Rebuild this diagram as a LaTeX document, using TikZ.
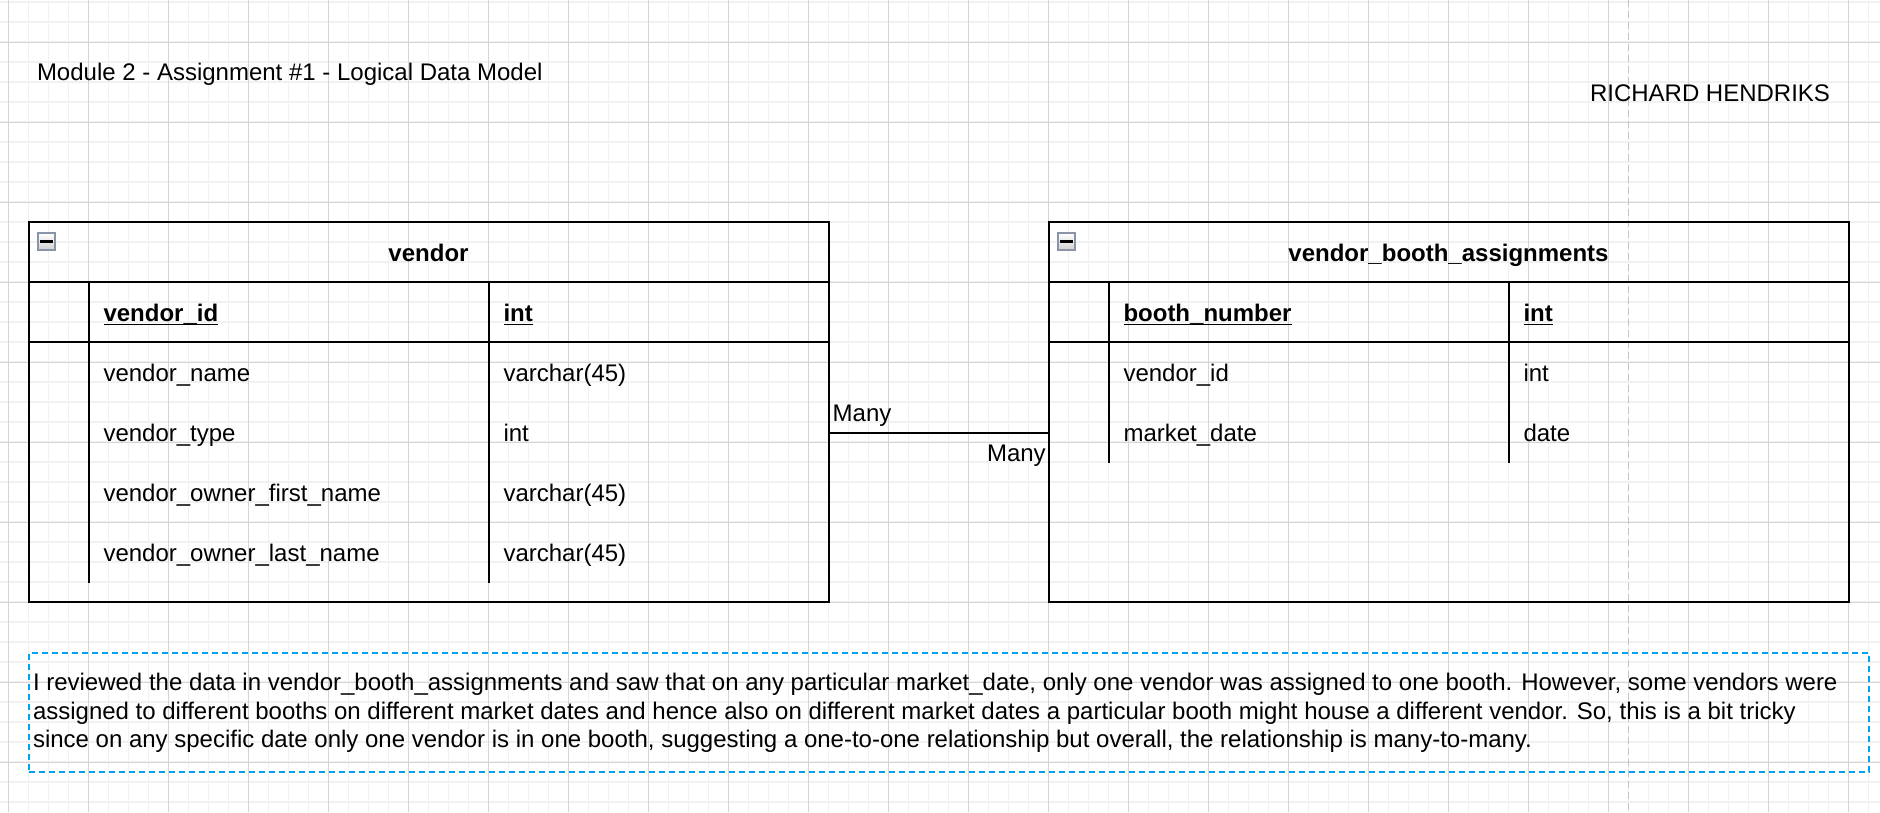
\documentclass[tikz,border=0pt]{standalone}
\usepackage{fontspec}
\setmainfont{Liberation Sans}
\usetikzlibrary{calc}
\definecolor{gridminor}{HTML}{F1F1F1}
\definecolor{gridmajor}{HTML}{D5D5D5}
\definecolor{pageline}{HTML}{C4C4C4}
\definecolor{noteblue}{HTML}{00A2F2}
\definecolor{iconedge}{HTML}{8A94A8}
\newcommand\ulx[1]{\setbox0\hbox{#1}\rlap{\rule[-3.8pt]{\wd0}{1.6pt}}\box0}
\begin{document}
\begin{tikzpicture}[x=1pt,y=-1pt,
  every node/.style={font=\fontsize{24}{28.3}\selectfont, inner sep=0pt, outer sep=0pt},
  tbl/.style={draw, line width=2pt, anchor=north west, minimum width=800pt, minimum height=380pt},
  sep/.style={line width=2pt},
  txt/.style={anchor=base west},
  hdr/.style={anchor=base, font=\fontsize{24}{28.3}\selectfont\bfseries},
  pk/.style={anchor=base west, font=\fontsize{24}{28.3}\selectfont\bfseries},
  icon/.style={draw=iconedge, line width=1.3pt, minimum size=17pt, top color=white, bottom color=black!18},
  minus/.style={line width=2.4pt},
  conn/.style={line width=2pt},
  notebox/.style={draw=noteblue, line width=2pt, dash pattern=on 6pt off 4pt, anchor=north west, minimum width=1840pt, minimum height=119pt},
]
\useasboundingbox (0,0) rectangle (1880,812);
\fill[white] (0,0) rectangle (1880,812);
% grid
\foreach \i in {0,...,93} \draw[gridminor, line width=1.5pt] ({8.5+20*\i},0) -- ({8.5+20*\i},812);
\foreach \i in {0,...,40} \draw[gridminor, line width=1.5pt] (0,{2+20*\i}) -- (1880,{2+20*\i});
\foreach \i in {0,...,23} \draw[gridmajor, line width=1pt] ({8.5+80*\i},0) -- ({8.5+80*\i},812);
\foreach \i in {0,...,9} \draw[gridmajor, line width=1pt] (0,{42+80*\i}) -- (1880,{42+80*\i});
% page break line
\draw[pageline, line width=1.5pt, dash pattern=on 7pt off 4pt] (1628.5,0) -- (1628.5,812);

% titles
\node[txt] (title) at (37,80) {Module 2 - Assignment \#1 - Logical Data Model};
\node[txt] (author) at (1590,101) {RICHARD HENDRIKS};

% vendor table
\node[tbl] (vendor) at (28.5,222) {};
\draw[sep] (28.5,282) -- (828.5,282);
\draw[sep] (28.5,342) -- (828.5,342);
\draw[sep] (88.5,282) -- (88.5,583);
\draw[sep] (488.5,282) -- (488.5,583);
\node[icon] (vicon) at (46.5,241.5) {};
\draw[minus] ($(vicon.center)+(-6.5,0)$) -- ($(vicon.center)+(6.5,0)$);
\node[hdr] (vendorH) at (428.5,261.5) {vendor};
\node[pk] (vid) at (103.5,321.5) {\ulx{vendor\_id}};
\node[pk] (vidT) at (503.5,321.5) {\ulx{int}};
\node[txt] (vname) at (103.5,381.5) {vendor\_name};
\node[txt] (vnameT) at (503.5,381.5) {varchar(45)};
\node[txt] (vtype) at (103.5,441.5) {vendor\_type};
\node[txt] (vtypeT) at (503.5,441.5) {int};
\node[txt] (vfirst) at (103.5,501.5) {vendor\_owner\_first\_name};
\node[txt] (vfirstT) at (503.5,501.5) {varchar(45)};
\node[txt] (vlast) at (103.5,561.5) {vendor\_owner\_last\_name};
\node[txt] (vlastT) at (503.5,561.5) {varchar(45)};

% vendor_booth_assignments table
\node[tbl] (booth) at (1048.5,222) {};
\draw[sep] (1048.5,282) -- (1848.5,282);
\draw[sep] (1048.5,342) -- (1848.5,342);
\draw[sep] (1108.5,282) -- (1108.5,463);
\draw[sep] (1508.5,282) -- (1508.5,463);
\node[icon] (bicon) at (1066.5,241.5) {};
\draw[minus] ($(bicon.center)+(-6.5,0)$) -- ($(bicon.center)+(6.5,0)$);
\node[hdr] (boothH) at (1448.5,261.5) {vendor\_booth\_assignments};
\node[pk] (bnum) at (1123.5,321.5) {\ulx{booth\_number}};
\node[pk] (bnumT) at (1523.5,321.5) {\ulx{int}};
\node[txt] (bvid) at (1123.5,381.5) {vendor\_id};
\node[txt] (bvidT) at (1523.5,381.5) {int};
\node[txt] (bdate) at (1123.5,441.5) {market\_date};
\node[txt] (bdateT) at (1523.5,441.5) {date};

% relationship
\coordinate (rowmid) at (0,433);
\draw[conn] (vendor.east |- rowmid) -- (booth.west |- rowmid);
\node[txt] (many1) at (832.7,421) {Many};
\node[anchor=base east] (many2) at (1045.7,461) {Many};

% note
\node[notebox] (note) at (28.8,653) {};
\node[txt] (n1) at (33,690.7) {I reviewed the data in vendor\_booth\_assignments and saw that on any particular market\_date, only one vendor was assigned to one booth. However, some vendors were};
\node[txt] (n2) at (33,719) {assigned to different booths on different market dates and hence also on different market dates a particular booth might house a different vendor. So, this is a bit tricky};
\node[txt] (n3) at (33,747.3) {since on any specific date only one vendor is in one booth, suggesting a one-to-one relationship but overall, the relationship is many-to-many.};
\end{tikzpicture}
\end{document}
